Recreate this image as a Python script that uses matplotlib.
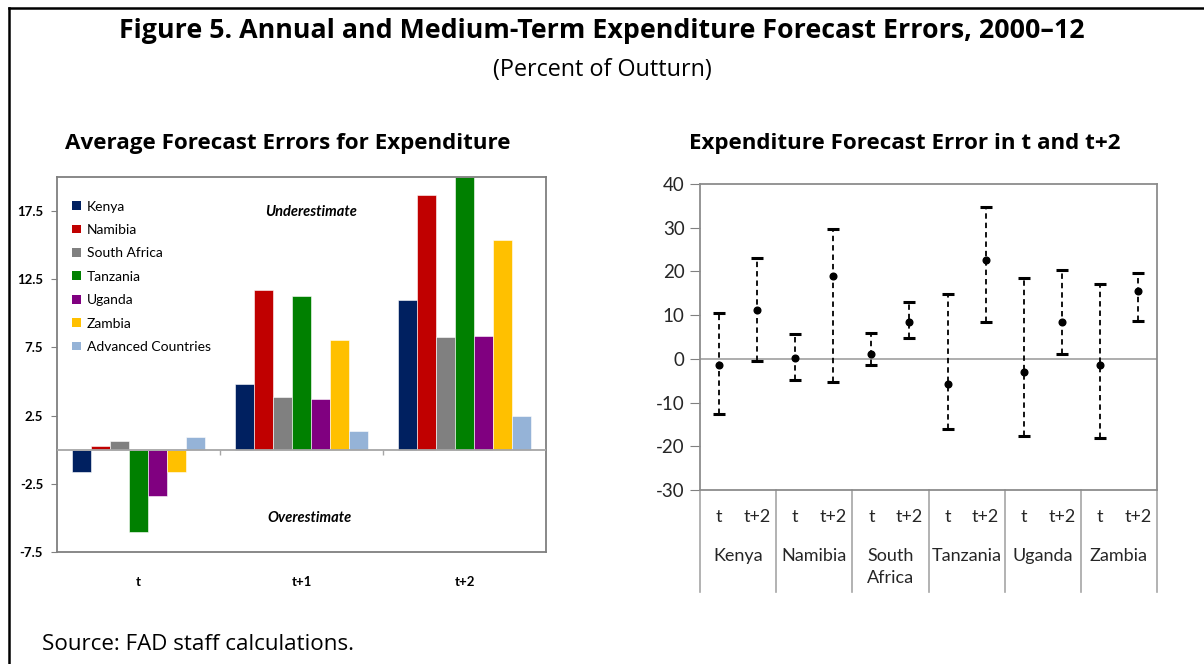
import matplotlib
matplotlib.use("Agg")
import matplotlib.pyplot as plt
import matplotlib.transforms as mtransforms
from matplotlib.lines import Line2D
import numpy as np

plt.rcParams["axes.unicode_minus"] = False

# ---- Left panel: average forecast errors by horizon ----
horizons = ["t", "t+1", "t+2"]
kenya = [-1.6, 4.8, 11.0]
namibia = [0.25, 11.75, 18.7]
south_africa = [0.65, 3.9, 8.25]
tanzania = [-6.0, 11.3, 20.0]
uganda = [-3.4, 3.7, 8.35]
zambia = [-1.65, 8.05, 15.35]
advanced = [0.95, 1.4, 2.5]
bar_names = ["Kenya", "Namibia", "South Africa", "Tanzania", "Uganda",
             "Zambia", "Advanced Countries"]
bar_colors = ["#002060", "#C00000", "#808080", "#008000", "#800080",
              "#FFC000", "#95B3D7"]
left_yticks = [-7.5, -2.5, 2.5, 7.5, 12.5, 17.5]

# ---- Right panel: forecast error ranges in t and t+2 ----
countries = ["Kenya", "Namibia", "South\nAfrica", "Tanzania", "Uganda", "Zambia"]
t_mid = [-1.3, 0.2, 1.0, -5.8, -3.1, -1.4]
t_low = [-12.7, -4.9, -1.5, -16.0, -17.7, -18.0]
t_high = [10.4, 5.7, 6.0, 14.9, 18.6, 17.1]
t2_mid = [11.2, 19.0, 8.5, 22.6, 8.5, 15.6]
t2_low = [-0.4, -5.2, 4.7, 8.4, 1.0, 8.7]
t2_high = [23.0, 29.8, 13.1, 34.8, 20.3, 19.6]
sub_labels = ["t", "t+2"]
right_yticks = [-30, -20, -10, 0, 10, 20, 30, 40]

W, H = 1204, 664
fig = plt.figure(figsize=(W / 100, H / 100), dpi=100)
fig.patch.set_facecolor("white")

title_font = ["Open Sans", "DejaVu Sans"]
chart_font = ["Lato", "DejaVu Sans"]


def fx(px):
    return px / W


def fy(py):
    return 1 - py / H


# Outer frame lines (top and left)
fig.add_artist(Line2D([fx(9), 1.0], [fy(8), fy(8)], color="black", lw=1.8,
                      transform=fig.transFigure))
fig.add_artist(Line2D([fx(9), fx(9)], [fy(8), 0.0], color="black", lw=1.8,
                      transform=fig.transFigure))

fig.text(0.5, fy(31), "Figure 5. Annual and Medium-Term Expenditure Forecast Errors, 2000\u201312",
         ha="center", va="center", fontsize=19.3, fontweight="bold", family=title_font)
fig.text(0.5, fy(70), "(Percent of Outturn)", ha="center", va="center",
         fontsize=16.8, family=title_font)
fig.text(fx(288), fy(143), "Average Forecast Errors for Expenditure", ha="center",
         va="center", fontsize=16.1, fontweight="bold", family=title_font)
fig.text(fx(905), fy(143), "Expenditure Forecast Error in t and t+2", ha="center",
         va="center", fontsize=16.1, fontweight="bold", family=title_font)
fig.text(fx(42), fy(645), "Source: FAD staff calculations.", ha="left", va="center",
         fontsize=16.1, family=title_font)

# ================= Left panel =================
axL = fig.add_axes([fx(57), fy(552), fx(546) - fx(57), fy(177) - fy(552)])
series = [kenya, namibia, south_africa, tanzania, uganda, zambia, advanced]
xcat = np.arange(len(horizons))
bw = 0.1166
for i, (vals, name, col) in enumerate(zip(series, bar_names, bar_colors)):
    axL.bar(xcat + (i - 3) * bw, vals, width=bw, color=col, label=name,
            edgecolor="white", linewidth=0.4, zorder=2)

axL.set_xlim(-0.5, 2.5)
axL.set_ylim(-7.5, 20)
axL.axhline(0, color="#A6A6A6", lw=1.3, zorder=3)
axL.vlines([0.5, 1.5], -0.35, 0, color="#A6A6A6", lw=1.0, zorder=3)
axL.set_yticks(left_yticks)
axL.set_yticklabels([f"{v:g}" for v in left_yticks])
axL.set_xticks(xcat)
axL.set_xticklabels(horizons)
axL.tick_params(axis="x", length=0, pad=17)
axL.tick_params(axis="y", length=4, color="#808080", direction="out", pad=6)
for lab in axL.get_xticklabels() + axL.get_yticklabels():
    lab.set_family(chart_font)
    lab.set_fontweight("bold")
    lab.set_fontsize(9.5)
for sp in axL.spines.values():
    sp.set_color("#7F7F7F")
    sp.set_linewidth(1.3)

axL.text(1.06, 17.45, "Underestimate", ha="center", va="center", fontsize=10.5,
         fontweight="bold", fontstyle="italic", family=chart_font)
axL.text(1.05, -5.0, "Overestimate", ha="center", va="center", fontsize=10.5,
         fontweight="bold", fontstyle="italic", family=chart_font)

leg = axL.legend(loc="upper left", bbox_to_anchor=(0.02, 0.952), frameon=False,
                 prop={"family": chart_font, "size": 10}, handlelength=0.6,
                 handleheight=0.6, handletextpad=0.45, labelspacing=0.82,
                 borderaxespad=0)
for h in leg.legend_handles:
    h.set_edgecolor("none")

# ================= Right panel =================
axR = fig.add_axes([fx(700), fy(490), fx(1157) - fx(700), fy(184) - fy(490)])
n = len(countries)
x_t = np.arange(n) * 2
x_t2 = np.arange(n) * 2 + 1
for xs, mid, lo, hi in [(x_t, t_mid, t_low, t_high), (x_t2, t2_mid, t2_low, t2_high)]:
    mid = np.array(mid)
    err = [mid - np.array(lo), np.array(hi) - mid]
    eb = axR.errorbar(xs, mid, yerr=err, fmt="o", color="black", ms=4.8,
                      capsize=4, capthick=2.2, elinewidth=1.3, zorder=4)
    eb[2][0].set_linestyle((0, (3.0, 2.2)))

axR.set_xlim(-0.5, 2 * n - 0.5)
axR.set_ylim(-30, 40)
axR.axhline(0, color="#A0A0A0", lw=1.2, zorder=2)
axR.set_yticks(right_yticks)
axR.set_xticks([])
axR.tick_params(axis="y", length=7, color="#808080", direction="out",
                labelsize=13.5, labelcolor="#262626", pad=4)
for lab in axR.get_yticklabels():
    lab.set_family(chart_font)
for sp in axR.spines.values():
    sp.set_color("#8C8C8C")
    sp.set_linewidth(1.3)

# Two-level category axis below the panel
tr = mtransforms.blended_transform_factory(axR.transData, axR.transAxes)
sep_bottom = -(592 - 490) / 306
for k in range(n + 1):
    axR.plot([2 * k - 0.5, 2 * k - 0.5], [0, sep_bottom], transform=tr,
             color="#A6A6A6", lw=1.2, clip_on=False)
for k in range(n):
    for j, sl in enumerate(sub_labels):
        axR.text(2 * k + j, -(517 - 490) / 306, sl, transform=tr, ha="center",
                 va="center", fontsize=13, color="#262626", family=chart_font)
    axR.text(2 * k + 0.5, -(548 - 490) / 306, countries[k], transform=tr,
             ha="center", va="top", fontsize=13, color="#262626",
             family=chart_font, linespacing=1.45)

fig.savefig("out.png", dpi=100, facecolor="white")
